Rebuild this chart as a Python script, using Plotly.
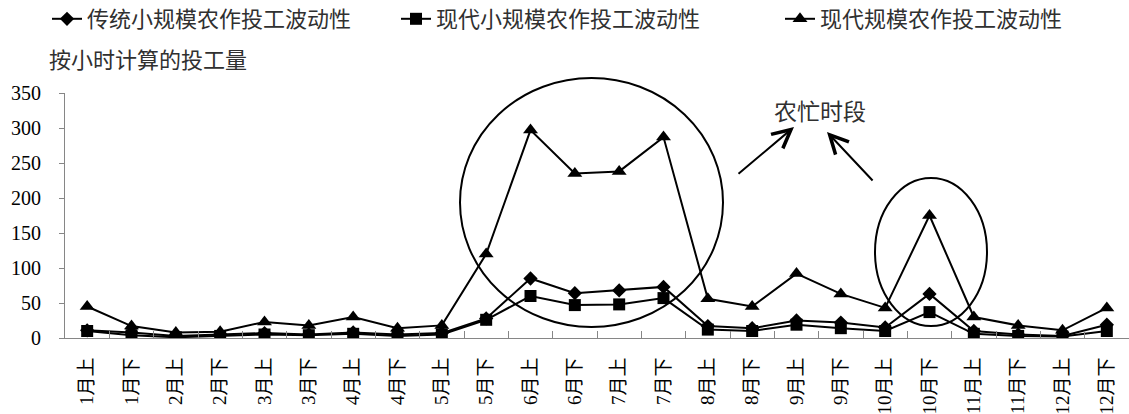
import plotly.graph_objects as go

categories = ["1月上", "1月下", "2月上", "2月下", "3月上", "3月下", "4月上", "4月下",
              "5月上", "5月下", "6月上", "6月下", "7月上", "7月下", "8月上", "8月下",
              "9月上", "9月下", "10月上", "10月下", "11月上", "11月下", "12月上", "12月下"]

traditional_small = [11, 8, 3, 5, 7, 5, 8, 5, 7, 28, 85, 64, 68, 73, 17, 14, 25, 22, 15, 63, 10, 5, 3, 19]
modern_small = [10, 4, 1, 3, 5, 4, 6, 3, 5, 26, 60, 47, 48, 57, 12, 10, 19, 14, 10, 37, 6, 3, 2, 10]
modern_large = [45, 17, 8, 9, 23, 18, 30, 14, 18, 120, 297, 235, 238, 287, 56, 45, 92, 63, 43, 175, 30, 18, 11, 43]

series_names = ["传统小规模农作投工波动性", "现代小规模农作投工波动性", "现代规模农作投工波动性"]
y_ticks = [0, 50, 100, 150, 200, 250, 300, 350]

CJK = "Noto Sans CJK SC"
SERIF = "Liberation Serif, Noto Sans CJK SC"
TXT = "#303030"

fig = go.Figure()
fig.add_trace(go.Scatter(x=categories, y=traditional_small, name=series_names[0],
                         mode="lines+markers", line=dict(color="black", width=2),
                         marker=dict(symbol="diamond", size=11, color="black"),
                         legend="legend"))
fig.add_trace(go.Scatter(x=categories, y=modern_small, name=series_names[1],
                         mode="lines+markers", line=dict(color="black", width=2),
                         marker=dict(symbol="square", size=12, color="black"),
                         legend="legend2"))
fig.add_trace(go.Scatter(x=categories, y=modern_large, name=series_names[2],
                         mode="lines+markers", line=dict(color="black", width=2),
                         marker=dict(symbol="triangle-up", size=13, color="black"),
                         legend="legend3"))

W, H = 1129, 414
L, R, T, B = 65, 0, 93, 76
PW, PH = W - L - R, H - T - B


def px(X):
    return (X - L) / PW


def py(Y):
    return (H - B - Y) / PH


leg_common = dict(orientation="h", yanchor="middle", xanchor="left",
                  font=dict(family=CJK, size=22, color=TXT),
                  bgcolor="rgba(0,0,0,0)", borderwidth=0, itemwidth=30)

fig.update_layout(
    width=W, height=H,
    margin=dict(l=L, r=R, t=T, b=B, pad=0, autoexpand=False),
    paper_bgcolor="white", plot_bgcolor="white",
    showlegend=True,
    legend=dict(x=px(47), y=py(19), **leg_common),
    legend2=dict(x=px(396), y=py(19), **leg_common),
    legend3=dict(x=px(780), y=py(19), **leg_common),
    xaxis=dict(
        type="category", range=[-0.5, 23.5], automargin=False,
        showline=True, linecolor="#868686", linewidth=1,
        ticks="inside", ticklen=7, tickcolor="#868686", tickson="boundaries",
        tickangle=-90, ticklabelstandoff=11,
        tickfont=dict(family=SERIF, size=19, color="black"),
        showgrid=False, zeroline=False,
    ),
    yaxis=dict(
        range=[0, 350], tickvals=y_ticks, ticktext=[str(v) for v in y_ticks],
        automargin=False,
        showline=True, linecolor="#868686", linewidth=1,
        ticks="outside", ticklen=5, tickcolor="#868686", ticklabelstandoff=14,
        tickfont=dict(family=SERIF, size=20, color="black"),
        showgrid=False, zeroline=False,
    ),
)

# y-axis title
fig.add_annotation(text="按小时计算的投工量", xref="paper", yref="paper",
                   x=px(47), y=py(58), xanchor="left", yanchor="middle",
                   showarrow=False, font=dict(family=CJK, size=22, color=TXT))

# busy-season label
fig.add_annotation(text="农忙时段", xref="paper", yref="paper",
                   x=px(820), y=py(110), xanchor="center", yanchor="middle",
                   showarrow=False, font=dict(family=CJK, size=23, color=TXT))

# arrows
fig.add_annotation(text="", xref="paper", yref="paper", x=px(794), y=py(127),
                   ax=737 - 794, ay=175 - 127, showarrow=True, arrowhead=5,
                   arrowsize=1.8, arrowwidth=2, arrowcolor="black", standoff=0)
fig.add_annotation(text="", xref="paper", yref="paper", x=px(827), y=py(132),
                   ax=874 - 827, ay=182 - 132, showarrow=True, arrowhead=5,
                   arrowsize=1.8, arrowwidth=2, arrowcolor="black", standoff=0)

# ellipses marking busy periods
fig.add_shape(type="circle", xref="paper", yref="paper",
              x0=px(460), x1=px(723), y0=py(327), y1=py(78),
              line=dict(color="black", width=2))
fig.add_shape(type="circle", xref="paper", yref="paper",
              x0=px(875), x1=px(987), y0=py(326), y1=py(178),
              line=dict(color="black", width=2))

fig.write_html("out.html")
